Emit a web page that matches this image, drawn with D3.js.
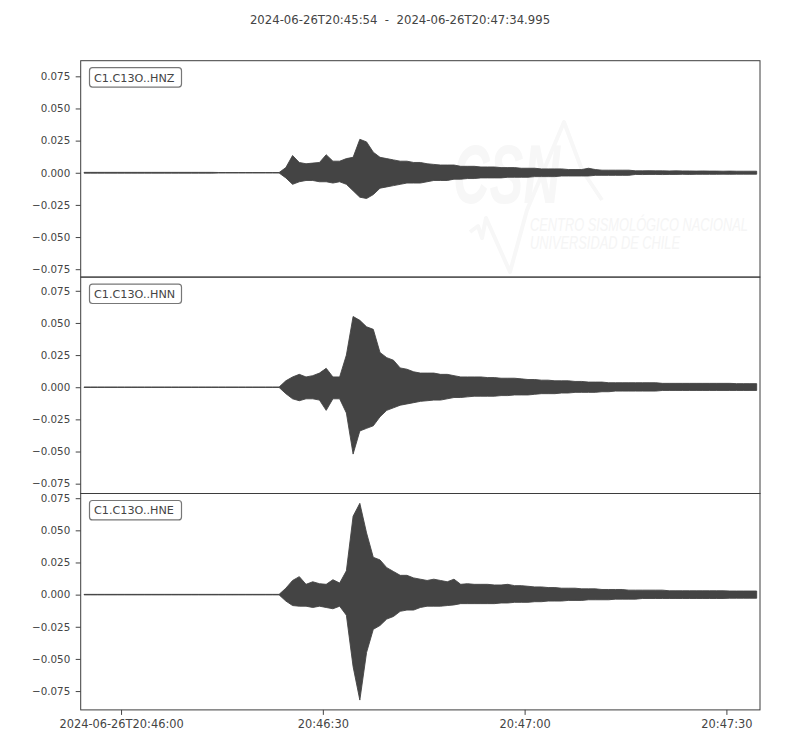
<!DOCTYPE html>
<html lang="en">
<head>
<meta charset="utf-8">
<title>C1.C13O seismogram</title>
<script src="https://cdn.jsdelivr.net/npm/d3@7/dist/d3.min.js"></script>
<style>
  body { margin: 0; background: #fff; }
  svg { font-family: "DejaVu Sans", sans-serif; }
  .tick text { fill: #444; }
  .tick line { stroke: #444; }
</style>
</head>
<body>
<svg id="chart" width="800" height="750"></svg>
<script>
// peak values per 1 s bin (units of 1e-3), first bin starts at 20:45:54
var UNIT = 1e-3;
var startTime = "2024-06-26T20:45:54";
var endTime = "2024-06-26T20:47:34.995";
var channels = ["C1.C13O..HNZ", "C1.C13O..HNN", "C1.C13O..HNE"];

var hiZ = [0.3, 0.3, 0.3, 0.3, 0.3, 0.3, 0.3, 0.3, 0.3, 0.3,
           0.3, 0.3, 0.3, 0.3, 0.3, 0.3, 0.3, 0.3, 0.3, 0.3,
           0.2, 0.2, 0.2, 0.2, 0.2, 0.2, 0.2, 0.2, 0.2, 0.2,
           4, 13.4, 8, 7, 7.5, 8, 14, 9, 9, 11,
           12, 26, 24, 16, 12, 11, 10, 9, 9, 8,
           8, 7, 6.5, 6, 6, 6, 5, 5, 5, 4.5,
           4.5, 4.5, 4, 4, 4, 3.5, 3.5, 3.5, 3, 3,
           3, 3, 2.5, 2.5, 2.5, 3.5, 2.5, 2, 2, 2,
           2, 2, 1.5, 1.5, 1.6, 1.5, 1.5, 1.4, 1.5, 1.4,
           1.4, 1.3, 1.4, 1.3, 1.3, 1.2, 1.3, 1.2, 1.2, 1.2, 1.2];
var loZ = [-0.3, -0.3, -0.3, -0.3, -0.3, -0.3, -0.3, -0.3, -0.3, -0.3,
           -0.3, -0.3, -0.3, -0.3, -0.3, -0.3, -0.3, -0.3, -0.3, -0.3,
           -0.2, -0.2, -0.2, -0.2, -0.2, -0.2, -0.2, -0.2, -0.2, -0.2,
           -4, -9, -7, -6, -6, -7, -7, -8, -7, -9,
           -14, -19, -20, -17, -12, -11, -10, -9, -8, -8,
           -8, -7, -6, -6, -6, -5, -5, -4.5, -4.5, -4,
           -4, -4, -4, -3.5, -3.5, -3.5, -3.5, -3, -3, -3,
           -3, -2.5, -2.5, -2.5, -2.5, -2.5, -2, -2, -2, -2,
           -2, -2, -1.3, -1.4, -1.3, -1.3, -1.4, -1.3, -1.3, -1.2,
           -1.3, -1.2, -1.2, -1.2, -1.2, -1.1, -1.2, -1.1, -1.1, -1.1, -1.1];

var hiN = [0.2, 0.2, 0.2, 0.2, 0.2, 0.2, 0.2, 0.2, 0.2, 0.2,
           0.2, 0.2, 0.2, 0.2, 0.2, 0.2, 0.2, 0.2, 0.2, 0.2,
           0.2, 0.2, 0.2, 0.2, 0.2, 0.2, 0.2, 0.2, 0.2, 0.2,
           5, 8, 10, 8, 9, 11, 14.7, 8, 8, 25,
           55, 52, 47, 45, 27, 23, 21, 15, 14, 12,
           11, 11, 11, 10, 10, 9, 8, 8, 8, 8,
           7.5, 7.5, 7, 7, 7, 6.5, 6, 6, 5.5, 5.5,
           5, 5, 5, 4.5, 4.5, 4, 4, 4, 3.5, 3.5,
           3.5, 3.5, 3.5, 3.5, 3.5, 3.5, 3, 3, 3, 3,
           3, 3, 3, 3, 3, 3, 3, 2.8, 2.8, 2.8, 2.8];
var loN = [-0.2, -0.2, -0.2, -0.2, -0.2, -0.2, -0.2, -0.2, -0.2, -0.2,
           -0.2, -0.2, -0.2, -0.2, -0.2, -0.2, -0.2, -0.2, -0.2, -0.2,
           -0.2, -0.2, -0.2, -0.2, -0.2, -0.2, -0.2, -0.2, -0.2, -0.2,
           -5, -9, -10.5, -9, -9, -10, -18, -9, -9, -20,
           -52, -34, -32, -30, -23, -18, -16, -14, -13, -12,
           -11, -10.5, -10, -10, -9, -8, -8, -7.5, -7, -7,
           -7, -7, -6.5, -6.5, -6, -6, -6, -5.5, -5, -5,
           -5, -4.5, -4.5, -4, -4, -4, -4, -3.5, -3.5, -3,
           -3, -3, -3, -3, -3, -3, -2.5, -2.5, -2.5, -2.5,
           -2.5, -2.5, -2.5, -2.5, -2.5, -2.5, -2.5, -2.5, -2.5, -2.5, -2.5];

var hiE = [0.2, 0.2, 0.2, 0.2, 0.2, 0.2, 0.2, 0.2, 0.2, 0.2,
           0.2, 0.2, 0.2, 0.2, 0.2, 0.2, 0.2, 0.2, 0.2, 0.2,
           0.2, 0.2, 0.2, 0.2, 0.2, 0.2, 0.2, 0.2, 0.2, 0.2,
           5, 11, 14, 8, 10, 8.5, 8, 11.6, 9, 18.5,
           61, 71, 48, 29, 27, 21, 18, 15, 15, 13,
           12, 11, 12, 11, 10, 12, 8, 8.5, 8, 8,
           8, 7.5, 7.5, 8, 7, 7, 6.5, 6, 6, 5.5,
           5.5, 5, 5, 5, 4.5, 4.5, 4.5, 4, 4, 4,
           4, 3.5, 3.5, 3.5, 3.5, 3.5, 3.5, 3, 3, 3,
           3, 3, 3, 3, 3, 3, 2.8, 2.8, 2.8, 2.8, 2.8];
var loE = [-0.2, -0.2, -0.2, -0.2, -0.2, -0.2, -0.2, -0.2, -0.2, -0.2,
           -0.2, -0.2, -0.2, -0.2, -0.2, -0.2, -0.2, -0.2, -0.2, -0.2,
           -0.2, -0.2, -0.2, -0.2, -0.2, -0.2, -0.2, -0.2, -0.2, -0.2,
           -5, -8.5, -9, -9, -10, -9, -10, -11, -9, -16,
           -56, -82, -45, -27, -24, -19, -17, -13, -12, -12,
           -10, -9, -9, -9, -8.5, -8, -7, -7, -7, -7,
           -7, -7, -6.5, -6.5, -6, -6, -6, -5.5, -5.5, -5,
           -5, -5, -4.5, -4.5, -4.5, -4, -4, -4, -4, -3.5,
           -3.5, -3.5, -3.5, -3, -3, -3, -3, -3, -3, -3,
           -3, -3, -3, -3, -3, -3, -2.8, -2.8, -2.8, -2.8, -2.8];

var yTicks = [-0.075, -0.05, -0.025, 0, 0.025, 0.05, 0.075];

var svg = d3.select("#chart");
var left = 80.7, right = 760, top0 = 60.7, panelH = 216.4;
var t0 = new Date(startTime + "Z"), t1 = new Date(endTime + "Z");
var x = d3.scaleUtc().domain([t0, t1]).range([left, right]);

var traces = channels.map(function (c, i) {
  return { name: c, hi: [hiZ, hiN, hiE][i], lo: [loZ, loN, loE][i] };
});
// equal scale: same span for all, centred on each trace
var span = d3.max(traces, function (d) { return d3.max(d.hi) - d3.min(d.lo); }) * 1.1 * UNIT;

function at(sec) { return new Date(t0.getTime() + sec * 1000); }

svg.append("text")
  .attr("x", 400).attr("y", 24)
  .attr("text-anchor", "middle")
  .attr("font-size", "11.7px").attr("fill", "#444")
  .style("white-space", "pre")
  .text(startTime + "  -  " + endTime);

traces.forEach(function (tr, i) {
  var pt = top0 + i * panelH;
  var mid = (d3.max(tr.hi) + d3.min(tr.lo)) / 2 * UNIT;
  var y = d3.scaleLinear().domain([mid - span / 2, mid + span / 2]).range([pt + panelH, pt]);
  var g = svg.append("g");

  var clipId = "clip" + i;
  g.append("clipPath").attr("id", clipId)
    .append("rect").attr("x", left).attr("y", pt).attr("width", right - left).attr("height", panelH);

  // faint CSN watermark
  var wm = g.append("g").attr("clip-path", "url(#" + clipId + ")")
    .attr("transform", "translate(0," + (pt - top0) + ")");
  wm.append("path")
    .attr("d", "M470,232 L478,226 L482,238 L486,218 L510,272 L527,210 L564,122 L582,170 L602,200")
    .attr("fill", "none").attr("stroke", "#f7f7f7").attr("stroke-width", 4)
    .attr("stroke-linejoin", "round");
  wm.append("text")
    .attr("transform", "translate(453,203) scale(1,1.3)")
    .attr("font-family", "Liberation Sans Narrow, Liberation Sans, sans-serif")
    .attr("font-weight", "bold").attr("font-style", "italic").attr("font-size", "64px")
    .attr("textLength", 107).attr("lengthAdjust", "spacingAndGlyphs")
    .attr("fill", "#f7f7f7").text("CSN");
  wm.append("text")
    .attr("transform", "translate(530,231) scale(1,1.4)")
    .attr("font-family", "Liberation Sans Narrow, Liberation Sans, sans-serif")
    .attr("font-style", "italic").attr("font-size", "12.5px")
    .attr("textLength", 218).attr("lengthAdjust", "spacingAndGlyphs")
    .attr("fill", "#f5f5f5").text("CENTRO SISMOLÓGICO NACIONAL");
  wm.append("text")
    .attr("transform", "translate(530,249) scale(1,1.4)")
    .attr("font-family", "Liberation Sans Narrow, Liberation Sans, sans-serif")
    .attr("font-style", "italic").attr("font-size", "12.5px")
    .attr("textLength", 150).attr("lengthAdjust", "spacingAndGlyphs")
    .attr("fill", "#f5f5f5").text("UNIVERSIDAD DE CHILE");

  // waveform drawn as per-second min/max envelope
  var bins = tr.hi.map(function (h, k) { return { s: k + 0.5, hi: h * UNIT, lo: tr.lo[k] * UNIT }; });
  var area = d3.area()
    .x(function (d) { return x(at(d.s)); })
    .y0(function (d) { return y(d.lo); })
    .y1(function (d) { return y(d.hi); });
  g.append("path")
    .datum(bins)
    .attr("clip-path", "url(#" + clipId + ")")
    .attr("d", area)
    .attr("fill", "#444").attr("stroke", "#444").attr("stroke-width", 0.9);

  // frame
  g.append("rect")
    .attr("x", left).attr("y", pt).attr("width", right - left).attr("height", panelH)
    .attr("fill", "none").attr("stroke", "#3d3d3d").attr("stroke-width", 1);

  var yAxis = g.append("g")
    .attr("transform", "translate(" + left + ",0)")
    .call(d3.axisLeft(y).tickValues(yTicks).tickFormat(d3.format(".3f")).tickSize(5).tickPadding(5.5));
  yAxis.select(".domain").remove();
  yAxis.selectAll("text").attr("font-size", "10.3px").attr("font-family", "DejaVu Sans, sans-serif");

  // channel label
  g.append("rect")
    .attr("x", 89.5).attr("y", pt + 7).attr("width", 92).attr("height", 19.4)
    .attr("rx", 3).attr("fill", "#fff").attr("stroke", "#777").attr("stroke-width", 1.2);
  g.append("text")
    .attr("x", 94).attr("y", pt + 20.8)
    .attr("font-size", "11.2px").attr("fill", "#444")
    .text(tr.name);
});

var fmtFirst = d3.utcFormat("%Y-%m-%dT%H:%M:%S"), fmt = d3.utcFormat("%H:%M:%S");
var xTicks = x.ticks(d3.utcSecond.every(30));
var xAxis = svg.append("g")
  .attr("transform", "translate(0," + (top0 + 3 * panelH) + ")")
  .call(d3.axisBottom(x).tickValues(xTicks)
    .tickFormat(function (d, i) { return i === 0 ? fmtFirst(d) : fmt(d); })
    .tickSize(5).tickPadding(5.5));
xAxis.select(".domain").remove();
xAxis.selectAll("text").attr("font-size", "11.4px").attr("font-family", "DejaVu Sans, sans-serif");
</script>
</body>
</html>
